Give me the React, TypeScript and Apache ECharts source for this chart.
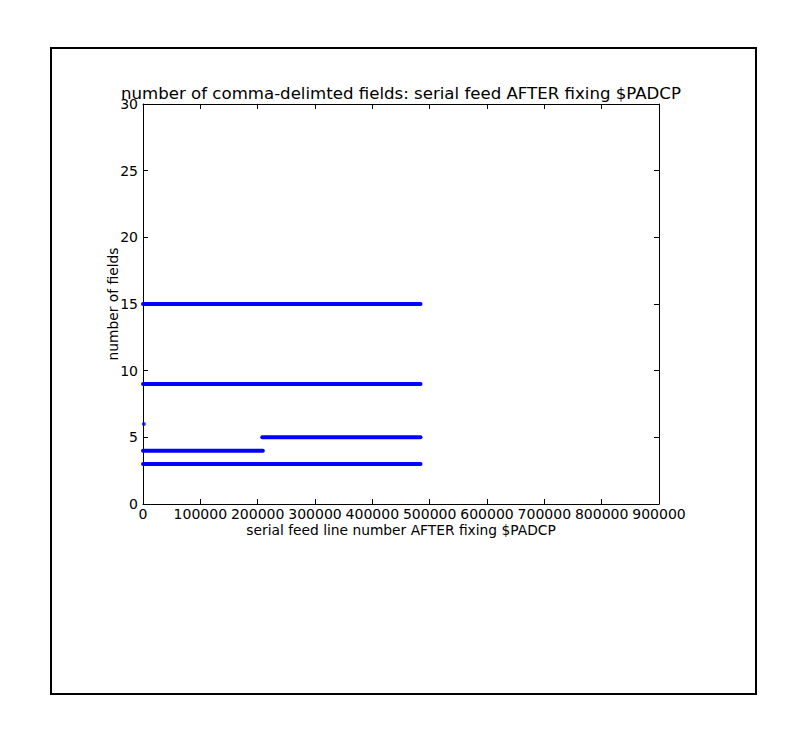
import { useEffect, useRef } from "react";
import * as echarts from "echarts";

// each horizontal run of points: number of fields, first and last line number
const fieldCounts = [15, 9, 5, 4, 3];
const runStarts = [0, 0, 208000, 0, 0];
const runEnds = [484000, 484000, 484000, 209000, 484000];
// stray single point
const strayPoints = [[1500, 6]];

const xTicks = [0, 900000, 100000];
const yTicks = [0, 30, 5];

const FONT = "DejaVu Sans";

export default function App() {
  const chartRef = useRef<HTMLDivElement>(null);

  useEffect(() => {
    if (!chartRef.current) return;
    const chart = echarts.init(chartRef.current, null, { renderer: "svg" });

    const line = () => ({ show: true, onZero: false, lineStyle: { color: "#000", width: 1 } });
    const tick = () => ({ show: true, inside: true, length: 5, lineStyle: { color: "#000", width: 1 } });

    const series: any[] = fieldCounts.map((f, i) => ({
      type: "line",
      data: [
        [runStarts[i], f],
        [runEnds[i], f]
      ],
      symbol: "none",
      lineStyle: { color: "#0000ff", width: 4, cap: "round" },
      silent: true
    }));
    series.push({
      type: "scatter",
      data: strayPoints,
      symbolSize: 4,
      itemStyle: { color: "#0000ff" }
    });

    const option = {
      animation: false,
      grid: [{ left: 143, top: 104, width: 516, height: 400 }],
      xAxis: [
        {
          type: "value",
          min: xTicks[0],
          max: xTicks[1],
          interval: xTicks[2],
          position: "bottom",
          axisLine: line(),
          axisTick: tick(),
          splitLine: { show: false },
          name: "serial feed line number AFTER fixing $PADCP",
          nameLocation: "middle",
          nameGap: 19,
          nameMoveOverlap: false,
          nameTextStyle: { color: "#000", fontFamily: FONT, fontSize: 13.8, verticalAlign: "top" },
          axisLabel: {
            color: "#000",
            fontFamily: FONT,
            fontSize: 14,
            margin: 3,
            formatter: (v: number) => String(v)
          }
        },
        {
          type: "value",
          min: xTicks[0],
          max: xTicks[1],
          interval: xTicks[2],
          position: "top",
          axisLine: line(),
          axisTick: tick(),
          splitLine: { show: false },
          axisLabel: { show: false }
        }
      ],
      yAxis: [
        {
          type: "value",
          min: yTicks[0],
          max: yTicks[1],
          interval: yTicks[2],
          position: "left",
          axisLine: line(),
          axisTick: tick(),
          splitLine: { show: false },
          name: "number of fields",
          nameLocation: "middle",
          nameGap: 23,
          nameMoveOverlap: false,
          nameTextStyle: { color: "#000", fontFamily: FONT, fontSize: 13.8 },
          axisLabel: { color: "#000", fontFamily: FONT, fontSize: 14, margin: 5 }
        },
        {
          type: "value",
          min: yTicks[0],
          max: yTicks[1],
          interval: yTicks[2],
          position: "right",
          axisLine: line(),
          axisTick: tick(),
          splitLine: { show: false },
          axisLabel: { show: false }
        }
      ],
      graphic: [
        {
          type: "rect",
          shape: { x: 51, y: 48, width: 705, height: 646 },
          style: { fill: "none", stroke: "#000", lineWidth: 2 },
          silent: true
        },
        {
          type: "text",
          x: 401,
          y: 102,
          style: {
            text: "number of comma-delimted fields: serial feed AFTER fixing $PADCP",
            fontFamily: FONT,
            fontSize: 16.6,
            fill: "#000",
            textAlign: "center",
            textVerticalAlign: "bottom"
          }
        }
      ],
      series
    };

    chart.setOption(option);
    return () => chart.dispose();
  }, []);

  return (
    <div
      ref={chartRef}
      style={{ position: "absolute", left: 0, top: 0, width: "808px", height: "741px", background: "#fff" }}
    />
  );
}
